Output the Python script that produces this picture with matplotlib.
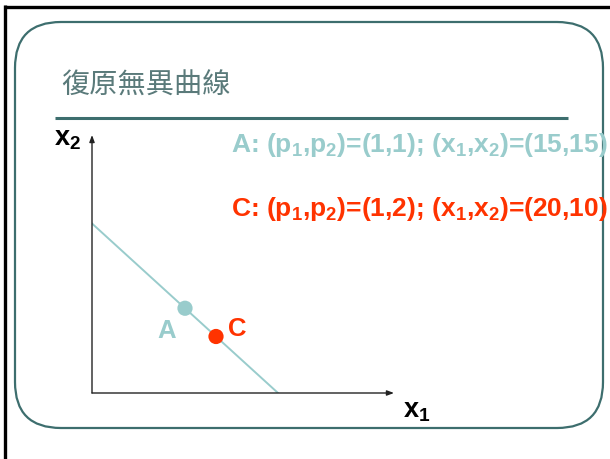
import matplotlib
matplotlib.use('Agg')
import matplotlib.pyplot as plt
from matplotlib.patches import FancyBboxPatch

plt.rcParams['mathtext.fontset'] = 'custom'
plt.rcParams['mathtext.rm'] = 'Liberation Sans:bold'
plt.rcParams['mathtext.bf'] = 'Liberation Sans:bold'
plt.rcParams['mathtext.it'] = 'Liberation Sans:bold'
plt.rcParams['mathtext.default'] = 'bf'

# data
title = '復原無異曲線'
line_x1 = [0, 30]
line_x2 = [30, 0]
point_names = ['A', 'C']
point_x1 = [15, 20]
point_x2 = [15, 10]
prices = [(1, 1), (1, 2)]

teal = '#99CCCC'
red = '#FF3300'
frame = '#3D6E6E'
point_colors = [teal, red]

W, H = 610, 459
fig = plt.figure(figsize=(W / 100, H / 100), dpi=100)

# background / slide decorations, pixel coordinates
bg = fig.add_axes([0, 0, 1, 1])
bg.set_xlim(0, W)
bg.set_ylim(H, 0)
bg.axis('off')
bg.plot([4, W], [6.5, 6.5], color='black', lw=2.4, solid_capstyle='butt')
bg.plot([4.5, 4.5], [5, H], color='black', lw=2.4, solid_capstyle='butt')
box = FancyBboxPatch((15, 22), 588, 406, boxstyle='round,pad=0,rounding_size=46',
                     fc='none', ec=frame, lw=1.6)
bg.add_patch(box)
bg.text(61, 94, title, fontsize=20.3, color='#5A7A7A',
        family=['Noto Sans CJK TC', 'DejaVu Sans'], fontweight='light', va='baseline')
bg.plot([55, 568], [118, 118], color=frame, lw=2.2, solid_capstyle='butt')

for i, name in enumerate(point_names):
    p1, p2 = prices[i]
    s = (f'{name}: (p$_1$,p$_2$)=({p1},{p2}); '
         f'(x$_1$,x$_2$)=({point_x1[i]},{point_x2[i]})')
    bg.text(231, [152, 216][i], s, fontsize=19, fontweight='bold',
            family='Liberation Sans', color=point_colors[i], va='baseline')

# chart area: origin at pixel (92, 393)
ox, oy = 92, 393
ax = fig.add_axes([ox / W, (H - oy) / H, (394 - ox) / W, (oy - 135) / H])
xmax = (394 - ox) / 6.2
ymax = (oy - 135) / 5.65
ax.set_xlim(0, xmax)
ax.set_ylim(0, ymax)
ax.axis('off')
ax.patch.set_alpha(0)

arrow = dict(arrowstyle='-|>,head_length=0.4,head_width=0.15', color='#222222',
             lw=1.0, shrinkA=0, shrinkB=0)
ax.annotate('', xy=(xmax, 0), xytext=(0, 0), arrowprops=arrow)
ax.annotate('', xy=(0, ymax), xytext=(0, 0), arrowprops=arrow)

ax.plot(line_x1, line_x2, color=teal, lw=1.4)
ax.scatter(point_x1, point_x2, s=120, c=point_colors, zorder=3, linewidths=0)

offsets = [(-18, -23), (21, 7)]
for i, name in enumerate(point_names):
    ax.annotate(name, (point_x1[i], point_x2[i]), xytext=offsets[i],
                textcoords='offset pixels', ha='center', va='center',
                fontsize=18.5, fontweight='bold', family='Liberation Sans',
                color=point_colors[i])

fig.text(54 / W, 1 - 145 / H, 'x$_2$', fontsize=19.5, fontweight='bold',
         family='Liberation Sans', va='baseline')
fig.text(403 / W, 1 - 417 / H, 'x$_1$', fontsize=19.5, fontweight='bold',
         family='Liberation Sans', va='baseline')

fig.savefig('out.png', dpi=100)
